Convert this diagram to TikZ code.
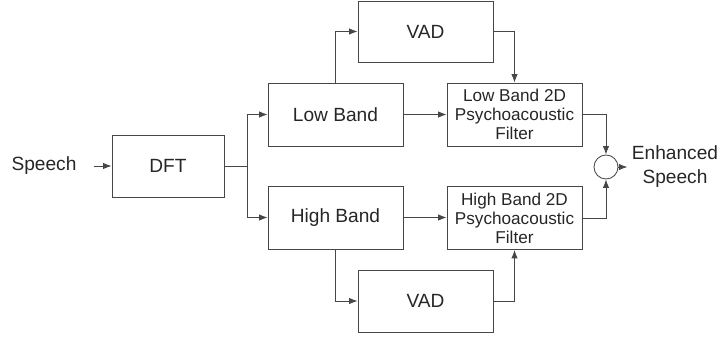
\documentclass[tikz,border=0pt]{standalone}
\usepackage{fontspec}
\setmainfont{Liberation Sans}
\usetikzlibrary{arrows.meta,calc,positioning}
\definecolor{wire}{RGB}{70,70,70}

\begin{document}
\begin{tikzpicture}[x=0.025cm,y=-0.025cm,>={Latex[length=6pt,width=4.5pt]},
    font=\fontsize{13.6}{15.5}\selectfont,
    blk/.style={draw=wire,semithick,minimum width=135*0.025cm,minimum height=63*0.025cm,
      inner sep=1pt,align=center,text=black!85},
    flow/.style={->,draw=wire,semithick}]
  \useasboundingbox (0,0) rectangle (720,337);
  % input and transform
  \node[text=black!85] (speech) at (44,166) {Speech};
  \node[blk,minimum width=112*0.025cm,minimum height=62*0.025cm] (dft) at (168,166) {DFT};
  % the two bands
  \node[blk] (low) at (335.5,114.5) {Low Band};
  \node[blk] (high) at (335.5,217.5) {High Band};
  % voice activity detectors
  \node[blk,minimum width=135*0.025cm,minimum height=61*0.025cm] (vadlow) at (425.5,31.5) {VAD};
  \node[blk,minimum width=135*0.025cm,minimum height=62*0.025cm] (vadhigh) at (425.5,301) {VAD};
  % band filters
  \node[blk,font=\fontsize{12.2}{13.6}\selectfont] (lowfilt) at (514.5,114.5)
       {Low Band 2D\\Psychoacoustic\\Filter};
  \node[blk,font=\fontsize{12.2}{13.6}\selectfont] (highfilt) at (514.5,218)
       {High Band 2D\\Psychoacoustic\\Filter};
  % summing point and output
  \node[circle,draw=wire,semithick,minimum size=24*0.025cm,inner sep=0pt] (sum) at (606,167) {};
  \node[text=black!85,align=center,font=\fontsize{13.6}{16.5}\selectfont] (out) at (675,166.5)
       {Enhanced\\Speech};
  \coordinate (split) at (247,166);
  % connectors
  \draw[flow,shorten <=9pt] (speech) -- (dft);
  \draw[draw=wire,semithick] (dft.east) -- (split);
  \draw[flow] (split) |- (low.west);
  \draw[flow] (split) |- (high.west);
  \draw[flow] (low.north) |- (vadlow.west);
  \draw[flow] (high.south) |- (vadhigh.west);
  \draw[flow] (low) -- (lowfilt);
  \draw[flow] (high.east) -- (high.east -| highfilt.west);
  \draw[flow] (vadlow.east) -| (lowfilt.north);
  \draw[flow] (vadhigh.east) -| (highfilt.south);
  \draw[flow] (lowfilt.east) -| (sum.north);
  \draw[flow] (highfilt.east) -| (sum.south);
  \draw[flow] (sum.east) -- ++(9,0);
\end{tikzpicture}
\end{document}
